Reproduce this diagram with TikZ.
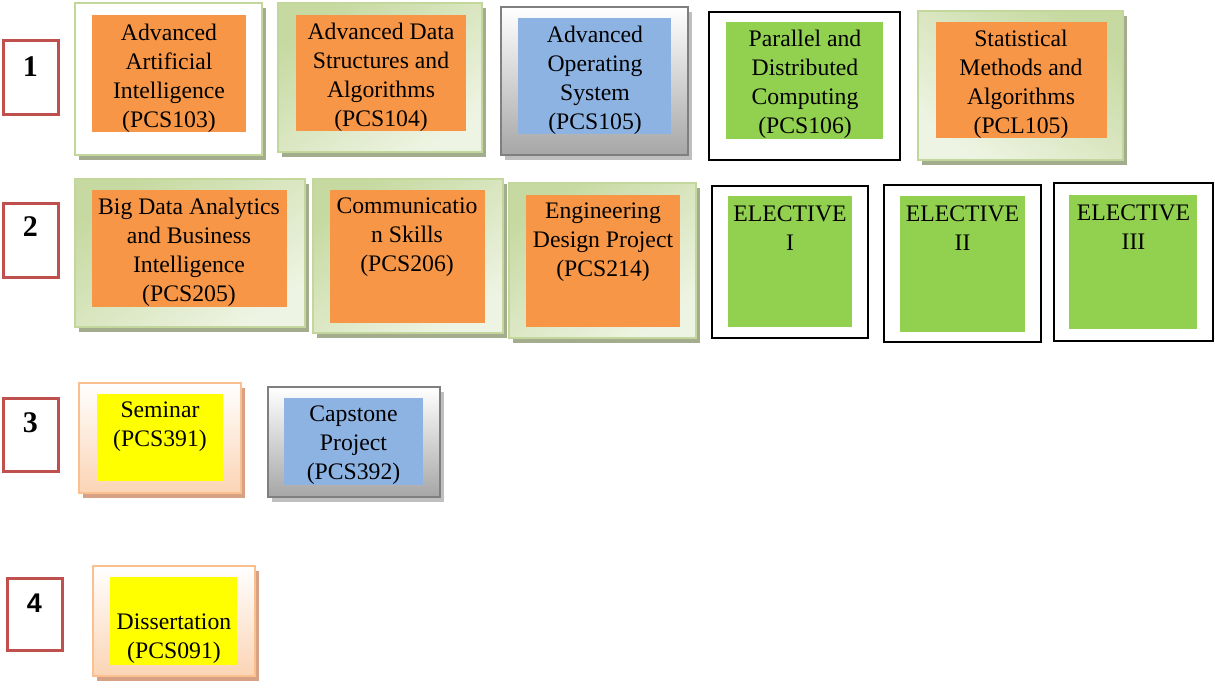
\documentclass[tikz,border=0pt]{standalone}
\usepackage{fontspec}
\setmainfont{Liberation Serif}
\newfontfamily\numsans{Liberation Sans}
\usetikzlibrary{shadows}
\definecolor{orangef}{HTML}{F79646}
\definecolor{bluef}{HTML}{8DB3E2}
\definecolor{greenf}{HTML}{92D050}
\definecolor{yellowf}{HTML}{FFFF00}
\definecolor{redb}{HTML}{C0504D}
\definecolor{greenb}{HTML}{C3D69B}
\definecolor{greenlt}{HTML}{EEF4E3}
\definecolor{greendk}{HTML}{C6D9A0}
\definecolor{greensh}{HTML}{A3AD8E}
\definecolor{greyb}{HTML}{7F7F7F}
\definecolor{greybot}{HTML}{A6A6A6}
\definecolor{greysh}{HTML}{BFBFBF}
\definecolor{peachb}{HTML}{FAC090}
\definecolor{peachbot}{HTML}{FBD4B4}
\definecolor{peachsh}{HTML}{D7A284}
\begin{document}
\begin{tikzpicture}[x=1pt,y=-1pt,
  box/.style={rectangle, inner sep=0pt, outer sep=0pt},
  numbox/.style={box, draw=redb, line width=3pt, fill=white, minimum width=55pt},
  numtxt/.style={font=\fontsize{30}{30}\selectfont\bfseries},
  greenbox/.style={box, draw=greenb, line width=2pt, top color=greendk, bottom color=greenlt, shading angle=35,
     drop shadow={shadow xshift=4pt, shadow yshift=-5pt, fill=greensh, opacity=1}},
  whitegreen/.style={box, draw=greenb, line width=2pt, fill=white,
     drop shadow={shadow xshift=4pt, shadow yshift=-5pt, fill=greensh, opacity=1}},
  greybox/.style={box, draw=greyb, line width=2.5pt, top color=white, bottom color=greybot,
     drop shadow={shadow xshift=4pt, shadow yshift=-5pt, fill=greysh, opacity=1}},
  blackbox/.style={box, draw=black, line width=2pt, fill=white},
  peachbox/.style={box, draw=peachb, line width=2pt, top color=white, bottom color=peachbot,
     drop shadow={shadow xshift=4pt, shadow yshift=-5pt, fill=peachsh, opacity=1}},
  inner/.style={box, fill=#1},
  txt/.style={align=center, inner sep=0pt, font=\fontsize{23.7}{29}\selectfont}
]
\useasboundingbox (0,0) rectangle (1215,688);

% semester numbers
\node[numbox, minimum height=74pt] (n1) at (30.5,77) {};
\node[numtxt] (n1t) at (30.5,67) {1};
\node[numbox, minimum height=74pt] (n2) at (30.5,240) {};
\node[numtxt] (n2t) at (30.5,227) {2};
\node[numbox, minimum height=73pt] (n3) at (30.5,434.5) {};
\node[numtxt] (n3t) at (30.5,423) {3};
\node[numbox, minimum height=72pt] (n4) at (34.5,614) {};
\node[font=\fontsize{27}{27}\selectfont\numsans\bfseries] (n4t) at (34.5,603) {4};

% row 1
\node[whitegreen, minimum width=187pt, minimum height=152pt] (aai) at (168.5,79) {};
\node[inner=orangef, minimum width=154pt, minimum height=117pt] (aaii) at (169,73.5) {};
\node[txt] (aait) at (169,78) {Advanced\\Artificial\\Intelligence\\(PCS103)};

\node[greenbox, minimum width=204pt, minimum height=149pt] (ads) at (380,77.5) {};
\node[inner=orangef, minimum width=170pt, minimum height=116pt] (adsi) at (381,73) {};
\node[txt] (adst) at (381,77.5) {Advanced Data\\Structures and\\Algorithms\\(PCS104)};

\node[greybox, minimum width=187pt, minimum height=148pt] (aos) at (594.5,81) {};
\node[inner=bluef, minimum width=153pt, minimum height=116pt] (aosi) at (594.5,76) {};
\node[txt] (aost) at (595,80) {Advanced\\Operating\\System\\(PCS105)};

\node[blackbox, minimum width=191pt, minimum height=148pt] (pdc) at (804.5,86) {};
\node[inner=greenf, minimum width=157pt, minimum height=117pt] (pdci) at (804.5,80.5) {};
\node[txt] (pdct) at (805,84) {Parallel and\\Distributed\\Computing\\(PCS106)};

\node[greenbox, shading angle=-35, minimum width=205pt, minimum height=149pt] (sma) at (1020.5,85.5) {};
\node[inner=orangef, minimum width=171pt, minimum height=116pt] (smai) at (1021.5,80) {};
\node[txt] (smat) at (1021,84.5) {Statistical\\Methods and\\Algorithms\\(PCL105)};

% row 2
\node[greenbox, minimum width=230pt, minimum height=148pt] (bda) at (190,253) {};
\node[inner=orangef, minimum width=195pt, minimum height=117pt] (bdai) at (189.5,248.5) {};
\node[txt] (bdat) at (189,252) {Big Data Analytics\\and Business\\Intelligence\\(PCS205)};

\node[greenbox, minimum width=190pt, minimum height=154pt] (cs) at (408,256) {};
\node[inner=orangef, minimum width=155pt, minimum height=133pt] (csi) at (407.5,256.5) {};
\node[txt] (cst) at (407,237.5) {Communicatio\\n Skills\\(PCS206)};

\node[greenbox, minimum width=187pt, minimum height=155pt] (edp) at (602.5,260.5) {};
\node[inner=orangef, minimum width=154pt, minimum height=132pt] (edpi) at (603,261) {};
\node[txt] (edpt) at (603,242) {Engineering\\Design Project\\(PCS214)};

\node[blackbox, minimum width=156pt, minimum height=152pt] (e1) at (790,262) {};
\node[inner=greenf, minimum width=124pt, minimum height=131pt] (e1i) at (790,261.5) {};
\node[txt] (e1t) at (790,228.5) {ELECTIVE\\I};

\node[blackbox, minimum width=157pt, minimum height=157pt] (e2) at (962.5,263.5) {};
\node[inner=greenf, minimum width=125pt, minimum height=136pt] (e2i) at (962.5,264) {};
\node[txt] (e2t) at (962.5,228.5) {ELECTIVE\\II};

\node[blackbox, minimum width=159pt, minimum height=158pt] (e3) at (1133.5,262) {};
\node[inner=greenf, minimum width=128pt, minimum height=134pt] (e3i) at (1133,262) {};
\node[txt] (e3t) at (1133.5,227.5) {ELECTIVE\\III};

% row 3
\node[peachbox, minimum width=162pt, minimum height=110pt] (sem) at (160,438) {};
\node[inner=yellowf, minimum width=126pt, minimum height=87pt] (semi) at (160,437.5) {};
\node[txt] (semt) at (160,427) {Seminar\\(PCS391)};

\node[greybox, minimum width=172pt, minimum height=110pt] (cap) at (354,442) {};
\node[inner=bluef, minimum width=139pt, minimum height=87pt] (capi) at (353.5,441.5) {};
\node[txt] (capt) at (353.5,445.5) {Capstone\\Project\\(PCS392)};

% row 4
\node[peachbox, minimum width=162pt, minimum height=110pt] (dis) at (174,621) {};
\node[inner=yellowf, minimum width=127pt, minimum height=88pt] (disi) at (173.5,621) {};
\node[txt] (dist) at (174,639) {Dissertation\\(PCS091)};
\end{tikzpicture}
\end{document}
